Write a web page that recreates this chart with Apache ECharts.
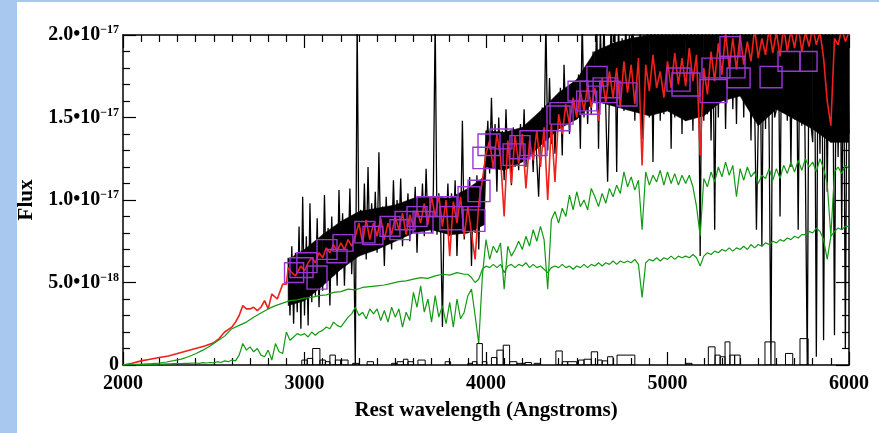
<!DOCTYPE html>
<html><head><meta charset="utf-8">
<script src="https://cdn.jsdelivr.net/npm/echarts@6/dist/echarts.min.js"></script>
<style>html,body{margin:0;padding:0;background:#fff;}#c{width:879px;height:433px;}</style>
</head><body><div id="c"></div>
<script>
// ---- tick labels ----
const xTickLabels = ['2000','3000','4000','5000','6000'];
const yTickMantissa = ['0','5.0\u202210','1.0\u202210','1.5\u202210','2.0\u202210'];
const yTickExponent = ['','\u221218','\u221217','\u221217','\u221217'];
// flux values are in units of 1e-18

// ---- observed spectrum (black), grid start 2910 A, step 10 A ----
const obsStart = 2910, obsStep = 10;
const obsFlux = [
6.5,3.0,7.2,2.5,6.8,3.2,8.4,2.2,10.2,
3.0,7.8,2.4,9.8,3.8,7.4,4.2,8.9,3.5,7.6,
4.5,10.3,5.0,8.3,3.6,9.0,5.4,8.0,4.8,10.6,
5.8,9.2,4.8,8.8,6.2,10.7,5.5,9.0,0,21,
6.6,9.4,7.0,11.0,6.4,12.0,6.9,9.8,7.2,10.5,
6.8,12.9,7.3,9.6,6.0,10.2,7.4,9.4,7.0,11.2,
7.6,10.0,7.8,11.3,7.2,9.8,8.0,10.4,7.5,9.9,
8.2,10.8,6.8,10.2,8.4,11.0,7.8,11.9,8.3,10.1,
8.0,10.6,21,7.9,10.4,8.4,2.3,10.0,8.2,11.0,
7.8,10.4,8.0,11.2,6.6,10.0,8.1,14.8,7.6,10.6,
8.2,11.4,6.0,10.8,8.0,11.5,7.0,10.9,8.5,12.0,
12.4,14.8,11.6,16.2,12.2,14.6,10.5,15.0,12.0,14.2,
11.2,15.5,12.3,14.0,10.9,14.4,12.0,13.8,11.8,14.6,
12.3,15.5,12.0,14.5,12.6,14.2,11.7,15.0,12.4,10.2,
13.8,15.6,13.2,21,13.0,17.4,13.4,15.8,12.8,16.0,
14.3,16.8,12.7,18.2,14.6,16.5,14.0,17.0,14.8,16.8,
14.9,17.6,13.1,21,15.0,18.0,14.6,17.8,15.2,19.0,
16.0,21,13.1,20.5,16.2,21,15.5,11.1,16.4,21,
16.0,20.5,11.7,21,15.8,19.8,15.4,21,16.0,20.0,
15.5,21,14.8,19.6,15.8,21,13.7,20.0,15.4,21,
15.0,21,12.3,21,15.4,20.5,14.8,21,15.2,21,
15.6,21,13.1,21,15.0,21,15.8,21,14.0,21,
14.8,21,15.0,21,14.2,21,15.3,21,6.6,21,
14.8,21,15.2,21,13.6,21,8.2,21,15.0,21,
16.0,21,14.3,21,16.2,21,15.5,21,14.6,21,
16.3,21,15.0,21,16.5,21,13.6,21,15.8,8.2,
14.6,21,7.2,21,14.3,21,14.0,0,21,15.0,
15.5,21,9.0,21,15.6,21,14.8,21,12.0,21,
14.9,21,8.2,21,14.5,21,11.5,0,21,14.6,
13.5,21,0.5,21,12.8,21,1.5,21,10.5,21,
13.5,21,1.8,21,12.6,21,8.2,21,1.0,21,
14.0];
// dense core of the observed spectrum (solid black band)
const obsCoreWave = [2910,3000,3100,3200,3300,3400,3500,3600,3700,3800,3900,3990,4000,4100,4200,4300,4400,4500,4600,4700,4800,4900,5000,5100,5200,5300,5400,5500,5600,5700,5800,5900,6000];
const obsCoreLow  = [3.6,3.9,4.8,5.8,6.6,7.0,7.5,8.0,8.2,7.9,8.0,8.5,12.0,11.8,12.3,13.3,14.3,14.9,16.0,15.7,15.4,15.1,15.4,14.8,15.1,16.0,16.3,14.5,15.5,14.9,14.3,13.5,13.5];
const obsCoreHigh = [6.4,7.0,7.9,8.7,9.3,9.5,9.7,10.1,10.2,10.1,10.7,11.4,14.2,14.1,14.4,15.4,16.5,17.3,19.0,19.5,19.8,20,20,20,20,21,21,21,21,21,21,21,21];

// ---- best-fit model (red) ----
const redUVWave = [2000,2050,2100,2150,2200,2250,2300,2350,2400,2450,2500,2530,2560,2600,2620,2640,2660,2680,2700,2720,2740,2760,2780,2800,2820,2850,2880,2900,2910,2930,2950];
const redUVFlux = [0,0.1,0.25,0.35,0.45,0.55,0.7,0.85,1.0,1.15,1.35,1.6,2.0,2.3,2.6,3.0,3.6,3.4,3.4,3.5,3.3,3.5,3.9,3.4,4.3,4.0,4.9,4.9,5.9,5.6,5.4];
const redOptStart = 2960, redOptStep = 20;
const redOptFlux = [
5.6,6.0,5.7,6.2,6.5,6.2,6.8,6.5,7.1,6.8,7.3,6.9,7.4,7.0,7.6,7.2,7.8,8.6,7.4,8.8,
7.6,8.6,7.8,8.9,7.6,8.6,7.9,9.0,8.2,9.2,7.9,9.1,8.4,9.4,8.6,9.8,8.5,10.2,9.0,10.3,
8.4,10.0,6.6,9.9,8.6,10.2,7.8,9.6,8.0,6.4,9.8,11.2,
12.8,13.6,11.9,14.0,12.6,9.0,13.6,11.0,13.9,12.2,
14.0,10.7,13.6,12.4,14.2,12.0,14.4,10.0,14.6,11.1,
15.2,14.0,15.8,14.6,16.2,15.0,16.6,15.4,17.0,15.6,
16.8,14.8,17.4,15.9,17.8,16.2,18.0,15.6,18.4,16.5,
18.2,15.8,18.6,12.1,18.2,16.6,18.8,16.8,17.8,16.2,
18.4,16.8,18.9,17.0,18.6,16.9,19.2,17.2,18.8,12.7,
18.0,16.4,19.0,17.2,19.5,17.6,20.2,18.0,19.8,17.9,
20.0,18.2,19.6,18.4,20.4,18.6,19.8,18.8,20.4,18.9,
20.2,18.7,20.5,19.0,20.3,19.2,20.6,19.0,20.2,19.3,
20.5,19.4,20.2,18.6,16.0,14.5,19.8,19.4,20.4,19.6,
20.2];

// ---- old population (smooth green) ----
const oldUVStart = 2000, oldUVStep = 40;
const oldUVFlux = [0.0,0.02,0.04,0.06,0.08,0.12,0.18,0.26,0.36,0.5,0.68,0.9,1.15,1.45,1.75,2.2,2.4,2.6,2.9,3.15,3.4,3.6,3.75,3.9,3.95,4.05,4.1,4.2,4.25,4.4,4.45,4.6,4.55,4.7,4.75,4.8,4.85,4.95,5.05,5.1,5.2,5.3,5.25,5.4,5.5,5.45,5.6,5.5];
const oldOptStart = 3900, oldOptStep = 20;
const oldOptFlux = [
5.5,5.3,5.0,5.2,5.8,6.0,5.9,6.1,5.9,6.1,
5.6,6.0,6.1,5.9,6.1,6.0,6.2,5.9,6.1,5.9,
6.0,5.8,5.6,5.9,6.0,5.9,6.1,5.9,6.0,5.8,
6.0,5.9,6.1,5.9,6.1,6.0,6.2,6.0,6.2,6.1,
6.3,6.1,6.3,6.2,6.3,6.2,6.4,6.1,4.1,6.2,
6.4,6.3,6.5,6.3,6.5,6.4,6.6,6.4,6.6,6.5,
6.6,6.5,6.7,6.5,6.0,6.6,6.8,6.7,6.9,6.8,
7.0,6.9,7.1,6.9,7.1,7.0,7.2,7.0,7.3,7.1,
7.3,7.2,7.4,7.3,7.5,7.4,7.6,7.5,7.7,7.6,
7.8,7.7,7.9,7.9,8.1,8.0,8.3,8.1,7.6,6.4,
7.8,8.1,8.3,8.2,8.4,8.4];

// ---- second population (noisy green) ----
const youngStart = 2000, youngStep = 20;
const youngFlux = [
0,0.01,0.02,0.02,0.03,0.03,0.04,0.04,0.05,0.05,
0.06,0.06,0.07,0.07,0.08,0.08,0.09,0.1,0.1,0.11,
0.12,0.1,0.14,0.12,0.15,0.13,0.2,0.15,0.25,0.2,
0.3,0.25,0.6,1.3,0.9,1.1,0.8,1.0,0.6,0.5,
0.9,0.3,1.3,0.8,0.7,2.0,1.5,1.7,1.9,1.8,
1.9,1.7,2.0,1.8,2.0,2.1,2.3,2.2,2.6,2.4,
2.3,2.6,2.9,3.1,3.5,3.0,3.2,2.8,3.4,3.1,
3.4,2.7,3.3,2.6,3.5,2.9,3.4,2.3,3.2,2.7,
4.4,3.5,4.8,3.2,4.0,2.6,4.2,2.9,3.6,2.5,
3.8,2.3,4.0,2.8,3.2,4.2,4.6,3.0,1.3,5.4,
7.6,6.4,7.2,6.8,7.4,4.6,7.2,6.6,7.0,7.5,
7.0,7.8,7.2,8.2,7.5,8.4,7.6,4.6,8.8,9.3,
8.6,9.5,9.0,10.3,9.4,10.5,9.6,10.0,9.4,10.7,
10.2,9.6,10.4,9.8,10.7,10.2,10.9,10.4,11.7,10.8,
11.4,10.6,11.2,8.2,11.7,10.9,11.5,11.1,11.8,10.9,
11.7,11.0,11.6,10.9,11.5,11.0,11.5,10.8,9.6,7.8,
11.3,10.8,11.7,11.1,12.0,11.4,12.3,11.5,12.1,10.2,
11.9,11.2,12.0,11.4,11.7,11.0,11.5,11.3,11.9,11.2,
11.9,11.3,12.1,11.6,12.3,11.7,12.4,11.8,12.5,12.0,
12.3,11.7,12.5,11.9,11.0,7.8,11.7,12.0,11.6,12.1,
11.9];

// ---- binned photometry boxes (purple) ----
const boxLeft  = [2890,2920,2958,3014,3069,3124,3157,3278,3322,3416,3471,3499,3565,3620,3598,3691,3746,3846,3901,3873,3928,3956,4022,4094,4132,4187,4336,4353,4452,4500,4518,4556,4590,4628,4722,4997,5025,5179,5190,5289,5289,5328,5510,5609,5730];
const boxRight = [2995,3047,3069,3124,3179,3234,3267,3388,3432,3526,3581,3609,3675,3730,3708,3840,3873,3967,4022,3994,4050,4077,4143,4215,4242,4336,4463,4480,4562,4610,4628,4667,4722,4738,4832,5124,5179,5328,5344,5399,5427,5455,5631,5730,5824];
const boxLow   = [5.0,5.3,5.6,4.6,6.4,6.2,6.9,7.4,7.3,7.8,7.6,8.2,8.4,9.0,8.0,9.0,8.2,9.6,9.9,8.1,11.9,12.7,13.1,12.1,12.5,12.7,14.2,14.6,16.0,15.4,15.2,16.9,15.9,16.2,15.7,16.6,16.3,15.9,17.4,18.7,17.4,16.8,16.8,17.8,17.8];
const boxHigh  = [6.2,6.5,6.8,6.0,7.6,7.0,7.9,8.7,8.4,9.0,8.8,9.3,9.6,10.2,9.3,10.2,9.6,10.8,11.2,9.4,13.2,14.0,14.3,13.4,13.9,14.2,15.7,15.9,17.2,16.6,17.2,18.1,17.4,17.2,17.1,18.0,17.7,17.3,18.6,19.9,18.7,18.0,18.1,19.0,19.0];

// ---- histogram at bottom ----
const histLeft   = [2985,3015,3045,3085,3115,3140,3170,3200,3265,3345,3480,3510,3545,3570,3625,3775,3900,3925,3950,3980,4030,4060,4095,4130,4170,4215,4265,4385,4420,4450,4510,4540,4580,4615,4640,4670,4722,5100,5225,5262,5290,5317,5344,5370,5537,5650,5730];
const histRight  = [3015,3045,3085,3115,3140,3170,3200,3240,3300,3380,3510,3545,3570,3600,3665,3805,3925,3950,3980,4005,4060,4095,4130,4170,4215,4250,4300,4420,4450,4500,4540,4580,4615,4640,4670,4700,4820,5135,5262,5290,5317,5344,5370,5400,5592,5690,5775];
const histHeight = [0.3,0.4,1.0,0.3,0.2,0.6,0.3,0.3,0.1,0.2,0.1,0.2,0.35,0.2,0.3,0.2,0.1,0.2,1.3,0.2,0.45,0.9,1.2,0.2,0.1,0.15,0.1,0.85,0.2,0.2,0.3,0.35,0.8,0.3,0.25,0.5,0.6,0.1,1.1,0.6,0.5,1.4,0.6,0.6,1.4,0.7,1.6];

// ---- build series data ----
const obsData = obsFlux.map((v,i)=>[obsStart+i*obsStep, v]);
const coreData = [];
for (let i = 0; i < obsCoreWave.length - 1; i++) {
  coreData.push([obsCoreWave[i], obsCoreWave[i+1], obsCoreLow[i], obsCoreLow[i+1], obsCoreHigh[i], obsCoreHigh[i+1]]);
}
const redData = redUVWave.map((w,i)=>[w, redUVFlux[i]]).concat(redOptFlux.map((v,i)=>[redOptStart+i*redOptStep, v]));
const oldData = oldUVFlux.map((v,i)=>[oldUVStart+i*oldUVStep, v]).concat(oldOptFlux.map((v,i)=>[oldOptStart+i*oldOptStep, v]));
const youngData = youngFlux.map((v,i)=>[youngStart+i*youngStep, v]);
const boxData = boxLeft.map((l,i)=>[l, boxRight[i], boxLow[i], boxHigh[i]]);
const histData = histLeft.map((l,i)=>[l, histRight[i], 0, histHeight[i]]);

const FONT = 'Liberation Serif';
function rectRender(color, width){
  return function(params, api){
    const p0 = api.coord([api.value(0), api.value(3)]);
    const p1 = api.coord([api.value(1), api.value(2)]);
    return {type:'rect', shape:{x:p0[0], y:p0[1], width:p1[0]-p0[0], height:p1[1]-p0[1]},
      style:{fill:'none', stroke:color, lineWidth:width}};
  };
}
function coreRender(params, api){
  const pts = [
    api.coord([api.value(0), api.value(2)]), api.coord([api.value(1), api.value(3)]),
    api.coord([api.value(1), api.value(5)]), api.coord([api.value(0), api.value(4)])
  ];
  return {type:'polygon', shape:{points:pts}, style:{fill:'#000', stroke:'#000', lineWidth:0.6}};
}
const tickStyle = {color:'#000', width:1.2};
function xAxisCfg(pos, showLabel){
  return {type:'value', position:pos, min:2000, max:6000, interval:1000,
    axisLine:{show:true, onZero:false, lineStyle:{color:'#000', width:1.5}},
    axisTick:{show:true, inside:true, length:13, lineStyle:tickStyle},
    minorTick:{show:true, splitNumber:10, length:7, lineStyle:tickStyle},
    splitLine:{show:false}, minorSplitLine:{show:false},
    axisLabel:{show:showLabel, margin:9, color:'#000', fontFamily:FONT, fontWeight:'bold', fontSize:20,
      formatter:v=>xTickLabels[Math.round((v-2000)/1000)]},
    name: showLabel ? 'Rest wavelength (Angstroms)' : '', nameLocation:'middle', nameGap:35,
    nameTextStyle:{color:'#000', fontFamily:FONT, fontWeight:'bold', fontSize:21}
  };
}
function yAxisCfg(pos, showLabel){
  return {type:'value', position:pos, min:0, max:20, interval:5,
    axisLine:{show:true, onZero:false, lineStyle:{color:'#000', width:1.5}},
    axisTick:{show:true, inside:true, length:13, lineStyle:tickStyle},
    minorTick:{show:true, splitNumber:5, length:7, lineStyle:tickStyle},
    splitLine:{show:false}, minorSplitLine:{show:false},
    axisLabel:{show:showLabel, margin:4, color:'#000', fontFamily:FONT, fontWeight:'bold', fontSize:20,
      formatter:v=>{const i=Math.round(v/5); if(i===0) return '{m|0}'; return '{m|'+yTickMantissa[i]+'}{s|'+yTickExponent[i]+'}';},
      rich:{m:{fontFamily:FONT, fontWeight:'bold', fontSize:20, lineHeight:22, color:'#000'},
            s:{fontFamily:FONT, fontWeight:'bold', fontSize:12, lineHeight:12, verticalAlign:'top', color:'#000'}}},
    name: showLabel ? 'Flux' : '', nameLocation:'middle', nameGap:84,
    nameTextStyle:{color:'#000', fontFamily:FONT, fontWeight:'bold', fontSize:21}
  };
}
const chart = echarts.init(document.getElementById('c'), null, {renderer:'canvas'});
chart.setOption({
  animation:false,
  backgroundColor:'#fff',
  graphic:[
    {type:'rect', left:0, top:0, shape:{width:17, height:433}, style:{fill:'#a8c8ef'}, z:100},
    {type:'rect', left:0, top:0, shape:{width:879, height:2}, style:{fill:'#a8c8ef'}, z:100}
  ],
  grid:{left:123, right:30, top:35, bottom:68},
  xAxis:[xAxisCfg('bottom', true), xAxisCfg('top', false)],
  yAxis:[yAxisCfg('left', true), yAxisCfg('right', false)],
  series:[
    {type:'custom', data:coreData, encode:{x:[0,1], y:[2,3,4,5]}, clip:true, z:1, renderItem:coreRender},
    {type:'line', data:obsData, showSymbol:false, clip:true, z:1, lineStyle:{color:'#000', width:1.3}},
    {type:'line', data:redData, showSymbol:false, clip:true, z:2, lineStyle:{color:'#f0201c', width:1.6}},
    {type:'line', data:oldData, showSymbol:false, clip:true, z:3, lineStyle:{color:'#129a12', width:1.2}},
    {type:'line', data:youngData, showSymbol:false, clip:true, z:3, lineStyle:{color:'#129a12', width:1.2}},
    {type:'custom', data:boxData, encode:{x:[0,1], y:[2,3]}, clip:true, z:4, renderItem:rectRender('#9a36d6', 1.4)},
    {type:'custom', data:histData, encode:{x:[0,1], y:[2,3]}, clip:true, z:5, renderItem:rectRender('#000', 1)}
  ]
});
</script></body></html>
